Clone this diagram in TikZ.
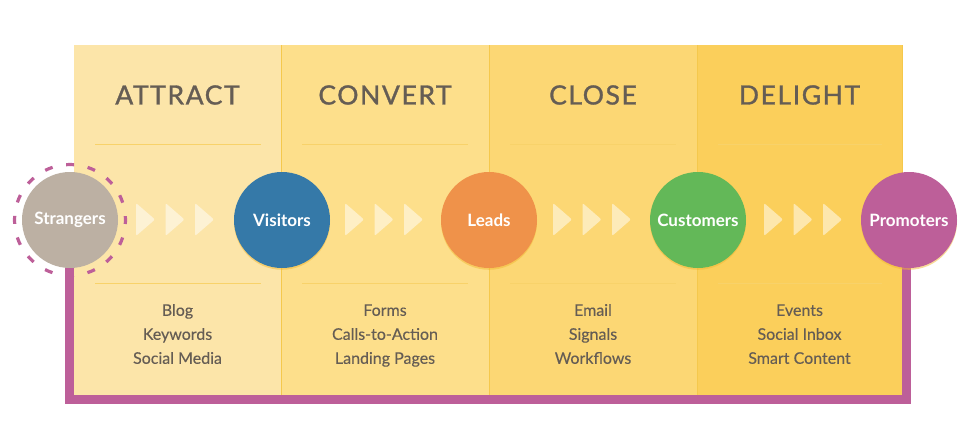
\documentclass[tikz,border=0pt]{standalone}
\usepackage{fontspec}
\setmainfont{Lato}
\newfontfamily\headfont[LetterSpace=6,FakeBold=1.2]{Lato}
\newfontfamily\itemfont[FakeBold=0.2]{Lato}
\definecolor{colA}{HTML}{FCE5A9}
\definecolor{colB}{HTML}{FDDF8B}
\definecolor{colC}{HTML}{FCD774}
\definecolor{colD}{HTML}{FBCF5B}
\definecolor{edgeY}{HTML}{F5C84C}
\definecolor{sepY}{HTML}{F8D26A}
\definecolor{txtG}{HTML}{655D54}
\definecolor{cStr}{HTML}{BCB0A3}
\definecolor{cVis}{HTML}{3579A8}
\definecolor{cLea}{HTML}{EF924A}
\definecolor{cCus}{HTML}{63B858}
\definecolor{cPro}{HTML}{BD5F99}
\definecolor{glowY}{HTML}{F2B834}
\tikzset{
  stage/.style={circle, minimum size=96pt, inner sep=0pt, text=white,
    font=\bfseries\fontsize{17}{20}\selectfont},
  heading/.style={text=txtG, font=\headfont\fontsize{26.5}{30}\selectfont},
  items/.style={text=txtG, align=center, font=\itemfont\fontsize{16}{24}\selectfont},
  sepline/.style={draw=sepY, line width=0.8pt},
  chev/.style={fill=white, fill opacity=0.5, rounded corners=2pt},
  frame/.style={draw=cPro, line width=9pt, line join=miter},
}
\begin{document}
\begin{tikzpicture}[x=1pt,y=-1pt]
\useasboundingbox (0,0) rectangle (968,423);
% columns
\fill[colA] (74,45) rectangle (281,395);
\fill[colB] (281,45) rectangle (489,395);
\fill[colC] (489,45) rectangle (697,395);
\fill[colD] (697,45) rectangle (902,395);
\foreach \x in {281,489,697,902} \draw[edgeY, line width=0.8pt] (\x,45) -- (\x,395);
% separators
\foreach \l/\r in {95/261, 302/468, 510/676, 718/882} {
  \draw[sepline] (\l,144) -- (\r,144);
  \draw[sepline] (\l,283) -- (\r,283);
}
% headings
\node[heading] (h1) at (177.5,95) {ATTRACT};
\node[heading] (h2) at (385,95) {CONVERT};
\node[heading] (h3) at (593,95) {CLOSE};
\node[heading] (h4) at (799.5,95) {DELIGHT};
% item lists
\node[items] (b1) at (177.5,335) {\strut Blog\\Keywords\\Social Media\strut};
\node[items] (b2) at (385,335) {\strut Forms\\Calls-to-Action\\Landing Pages\strut};
\node[items] (b3) at (593,335) {\strut Email\\Signals\\Workflows\strut};
\node[items] (b4) at (799.5,335) {\strut Events\\Social Inbox\\Smart Content\strut};
% chevrons
\foreach \s in {136,345,553,764} {
  \foreach \k in {0,1,2} {
    \path[chev] (\s+29.5*\k,203) -- (\s+29.5*\k+19,219.5) -- (\s+29.5*\k,236) -- cycle;
  }
}
% circle positions
\coordinate (pS) at (70,220);
\coordinate (pV) at (282,220);
\coordinate (pL) at (489,220);
\coordinate (pC) at (698,220);
\coordinate (pP) at (909,220);
\coordinate (fl) at (69.5,399);
\coordinate (fr) at (906.5,399);
% frame (loop back)
\draw[frame] (69.5,240) -- (fl) -- (fr) -- (906.5,240);
% glows
\foreach \p in {pV,pL,pC,pP} \fill[glowY, opacity=0.5] ([yshift=-1.8pt]\p) circle (48);
% stages
\node[stage, fill=cStr] (strangers) at (pS) {Strangers};
\node[stage, fill=cVis] (visitors) at (pV) {Visitors};
\node[stage, fill=cLea] (leads) at (pL) {Leads};
\node[stage, fill=cCus] (customers) at (pC) {Customers};
\node[stage, fill=cPro] (promoters) at (pP) {Promoters};
\draw[cPro, line width=3.2pt, dash pattern=on 8pt off 13.8pt, dash phase=4pt] (strangers.center) circle (55.5);
\end{tikzpicture}
\end{document}
